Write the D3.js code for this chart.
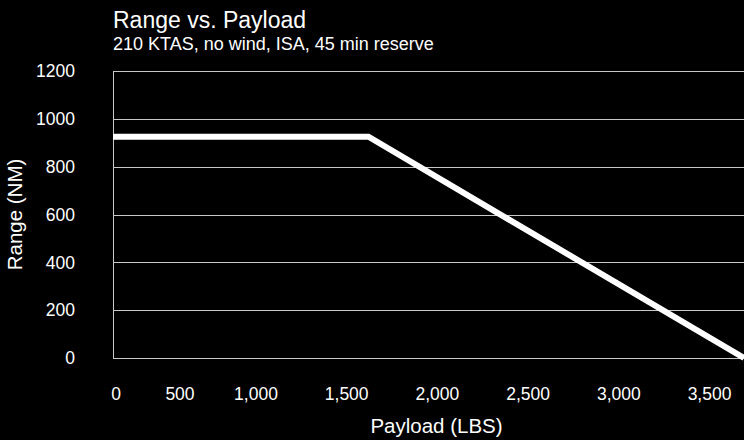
<!DOCTYPE html>
<html>
<head>
<meta charset="utf-8">
<script src="https://cdn.jsdelivr.net/npm/d3@7"></script>
<style>
    html, body {
        margin: 0;
        padding: 0;
        background: #000;
    }
    svg {
        display: block;
        font-family: Helvetica, Arial, "Liberation Sans", sans-serif;
    }
    text {
        fill: #fff;
    }
    .grid line {
        stroke: #c8c8c8;
        stroke-width: 1;
        shape-rendering: crispEdges;
    }
</style>
</head>
<body>
<svg id="chart" width="744" height="440"></svg>
<script>
    // data
    const payload = [0, 1620, 3690];      // LBS
    const range = [925, 925, 0];          // NM
    const xTicks = [0, 500, 1000, 1500, 2000, 2500, 3000, 3500];
    const yTicks = [0, 200, 400, 600, 800, 1000, 1200];

    const title = "Range vs. Payload";
    const subtitle = "210 KTAS, no wind, ISA, 45 min reserve";
    const xTitle = "Payload (LBS)";
    const yTitle = "Range (NM)";

    const W = 744;
    const H = 440;
    const plot = {left: 113, top: 71, right: 744, bottom: 358};
    const plotWidth = plot.right - plot.left;

    // the original axis is squeezed at the low end, so use a polylinear scale
    const x = d3.scaleLinear()
        .domain([0, 500, 1000, 3690])
        .range([0, 67, 143, plotWidth].map(d => plot.left + d));

    const y = d3.scaleLinear()
        .domain([0, 1200])
        .range([plot.bottom, plot.top]);

    const svg = d3.select("#chart");

    svg.append("rect")
        .attr("width", W)
        .attr("height", H)
        .attr("fill", "#000");

    // titles
    svg.append("text")
        .attr("x", plot.left)
        .attr("y", 28)
        .style("font-size", "23px")
        .text(title);

    svg.append("text")
        .attr("x", plot.left)
        .attr("y", 50)
        .style("font-size", "18px")
        .text(subtitle);

    // grid
    const grid = svg.append("g").attr("class", "grid");

    grid.selectAll(".hline")
        .data(yTicks)
        .enter()
        .append("line")
        .attr("class", "hline")
        .attr("x1", plot.left)
        .attr("x2", plot.right)
        .attr("y1", d => Math.round(y(d)) + 0.5)
        .attr("y2", d => Math.round(y(d)) + 0.5);

    grid.append("line")
        .attr("x1", plot.left + 0.5)
        .attr("x2", plot.left + 0.5)
        .attr("y1", y(1200))
        .attr("y2", y(0) + 1);

    // y axis labels
    svg.append("g")
        .selectAll("text")
        .data(yTicks)
        .enter()
        .append("text")
        .attr("x", 75)
        .attr("y", y)
        .attr("dy", "0.36em")
        .attr("text-anchor", "end")
        .style("font-size", "17.5px")
        .text(d => d);

    // x axis labels
    const fmt = d3.format(",");

    svg.append("g")
        .selectAll("text")
        .data(xTicks)
        .enter()
        .append("text")
        .attr("x", d => x(d) + (d === 0 ? 3 : 0))
        .attr("y", 400)
        .attr("text-anchor", "middle")
        .style("font-size", "17.5px")
        .text(fmt);

    // axis titles
    svg.append("text")
        .attr("x", (plot.left + plot.right) / 2 + 8)
        .attr("y", 433)
        .attr("text-anchor", "middle")
        .style("font-size", "20.5px")
        .text(xTitle);

    svg.append("text")
        .attr("transform", `translate(22,${(plot.top + plot.bottom) / 2}) rotate(-90)`)
        .attr("text-anchor", "middle")
        .style("font-size", "20.5px")
        .text(yTitle);

    // range line
    const line = d3.line()
        .x(d => x(d[0]))
        .y(d => y(d[1]));

    svg.append("path")
        .datum(d3.zip(payload, range))
        .attr("d", line)
        .attr("fill", "none")
        .attr("stroke", "#fff")
        .attr("stroke-width", 6)
        .attr("stroke-linejoin", "miter");
</script>
</body>
</html>
